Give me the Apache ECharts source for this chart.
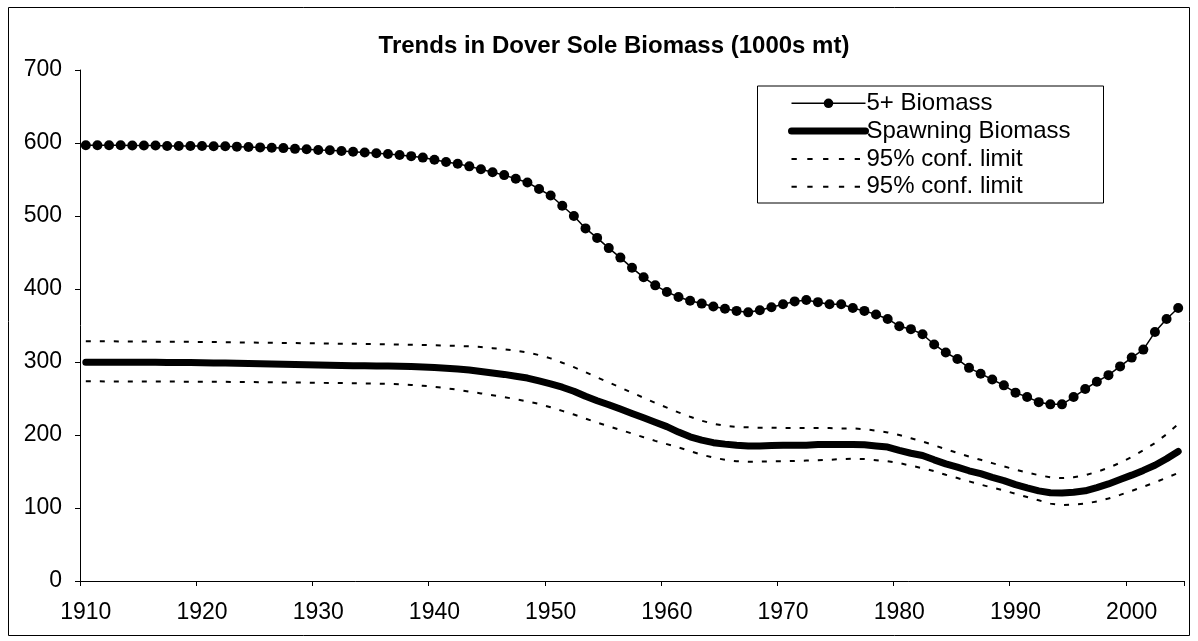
<!DOCTYPE html>
<html>
<head>
<meta charset="utf-8">
<script src="https://cdn.jsdelivr.net/npm/echarts@6/dist/echarts.min.js"></script>
<style>
html,body{margin:0;padding:0;background:#fff;}
#chart{width:1198px;height:641px;}
</style>
</head>
<body>
<div id="chart"></div>
<script>
// Categories: years 1910..2004
const years = [];
for (let y = 1910; y <= 2004; y++) years.push(String(y));

const biomass5plus = [
  597, 597, 597, 597, 596.5, 596.5, 596.5, 596, 596, 596,
  596, 595.5, 595.5, 595, 594.5, 594, 593.5, 593, 592, 591.5,
  590.5, 590, 589, 588, 587, 586, 585, 583.5, 582, 580,
  577, 574, 571.5, 568, 564, 560, 556, 551, 546, 537,
  528, 514, 500, 483, 470, 456, 443, 429, 416, 405,
  396, 389, 384, 380, 376, 373, 370, 368, 371, 375,
  379, 383, 385, 382, 379, 379, 374, 370, 365, 359,
  349, 345, 338, 324, 313, 304, 292, 284, 276, 268,
  258, 252, 245, 242, 242, 252, 263, 273, 282, 294,
  306, 317, 341, 359, 374
];

const spawningBiomass = [
  299.5, 299.5, 299.5, 299.5, 299.5, 299.5, 299.5, 299.4, 299.3, 299.2,
  299, 298.8, 298.6, 298.3, 298, 297.7, 297.4, 297, 296.6, 296.2,
  295.8, 295.5, 295.2, 295, 294.8, 294.6, 294.4, 294.2, 293.8, 293.2,
  292.5, 291.5, 290.3, 289, 287, 285, 283, 280.5, 278, 274,
  270, 265.5, 260, 253, 247, 241.5, 235.5, 229.5, 223.5, 217.5,
  211.5, 204, 197.5, 193, 189.5, 187.5, 186, 185, 185, 185.5,
  186, 186, 186, 187, 187, 187, 187, 186.5, 185, 183.5,
  179, 175, 172, 166, 160.5, 156, 151, 147, 142, 137.5,
  132, 127.5, 123.5, 121, 120.5, 121.5, 123.5, 128, 133, 139,
  145, 151.5, 158.5, 167.5, 177.5
];

const upperLimit = [
  328.5, 328.4, 328.3, 328.2, 328.1, 328, 327.9, 327.8, 327.7, 327.6,
  327.5, 327.3, 327.1, 326.9, 326.7, 326.5, 326.3, 326.1, 325.9, 325.7,
  325.5, 325.3, 325.1, 324.9, 324.7, 324.5, 324.2, 323.9, 323.6, 323.3,
  323, 322.5, 322, 321.5, 320.5, 319, 317.5, 315.5, 313, 309.5,
  305, 299, 293, 286, 279, 272, 265, 258, 251, 244,
  237.5, 231, 225, 219.5, 215.5, 212.5, 211, 210.5, 210, 210,
  209.5, 209.5, 209.5, 209.5, 209.5, 209, 209, 208, 206, 203.5,
  200, 195.5, 191, 186, 180.5, 175.5, 170.5, 166, 161.5, 157,
  152.5, 148.5, 145, 142, 141, 142, 145, 149.5, 155, 162,
  170, 179, 189, 201, 215
];

const lowerLimit = [
  273.5, 273.5, 273.4, 273.4, 273.3, 273.3, 273.2, 273.2, 273.1, 273.1,
  273, 272.9, 272.8, 272.6, 272.5, 272.4, 272.2, 272, 271.8, 271.7,
  271.5, 271.3, 271.1, 270.9, 270.7, 270.5, 270, 269.5, 268.5, 267.5,
  266, 264, 262, 259.5, 257, 254.5, 252, 249, 246, 242.5,
  238, 233, 228, 222.5, 217, 212, 207, 202, 197, 192,
  187.5, 183, 178, 173, 169, 166, 164, 163.5, 163.5, 164,
  164, 164.5, 165, 165.5, 166, 167, 167.5, 167, 165.5, 164,
  161.5, 158, 154.5, 150.5, 145.5, 141, 136.5, 132, 128, 124,
  119.5, 115, 110.5, 106, 104, 104.5, 106, 109, 113, 118,
  123.5, 129, 135, 141.5, 148
];

const yTicks = [0, 100, 200, 300, 400, 500, 600, 700];

const FONT = 'Liberation Sans, Arial, Helvetica, sans-serif';
const chart = echarts.init(document.getElementById('chart'), null, {renderer: 'canvas'});

const confName1 = '95% conf. limit';
const confName2 = '95% conf. limit\u200B';
const DASH = [5, 9];

const option = {
  backgroundColor: '#ffffff',
  animation: false,
  title: {
    text: 'Trends in Dover Sole Biomass (1000s mt)',
    left: 609, top: 29, textAlign: 'center',
    textStyle: {fontFamily: FONT, fontSize: 24, fontWeight: 'bold', color: '#000', lineHeight: 24}
  },
  legend: {
    left: 788, top: 91.3,
    orient: 'vertical',
    itemWidth: 74, itemHeight: 12, itemGap: 3.8,
    padding: 0,
    data: [
      {name: '5+ Biomass', lineStyle: {width: 1.5, color: '#000'}, itemStyle: {color: '#000'}},
      {name: 'Spawning Biomass', lineStyle: {width: 7, color: '#000', cap: 'round'}, itemStyle: {opacity: 0}},
      {name: confName1, lineStyle: {width: 2, color: '#000', type: [5.3, 10.5]}, itemStyle: {opacity: 0}},
      {name: confName2, lineStyle: {width: 2, color: '#000', type: [5.3, 10.5]}, itemStyle: {opacity: 0}}
    ],
    textStyle: {fontFamily: FONT, fontSize: 24, color: '#000', lineHeight: 24, padding: [0, 0, 0, -4]},
    formatter: n => n.replace('\u200B', '')
  },
  graphic: [
    {type: 'rect', shape: {x: 8.5, y: 7.5, width: 1181, height: 628},
     style: {fill: 'none', stroke: '#000', lineWidth: 1}, silent: true, z: 100},
    {type: 'rect', shape: {x: 757.5, y: 86, width: 346, height: 117},
     style: {fill: 'none', stroke: '#000', lineWidth: 1}, silent: true, z: 100}
  ],
  grid: {left: 80, right: 14, top: 70, bottom: 60, containLabel: false},
  xAxis: {
    type: 'category', data: years, boundaryGap: true,
    axisLine: {show: true, lineStyle: {color: '#000', width: 1}},
    axisTick: {show: true, interval: 9, length: 5, inside: false, lineStyle: {color: '#000'}},
    axisLabel: {interval: 9, margin: 20, fontFamily: FONT, fontSize: 23, color: '#000', lineHeight: 24},
    splitLine: {show: false}
  },
  yAxis: {
    type: 'value', min: yTicks[0], max: yTicks[yTicks.length - 1], interval: 100,
    axisLine: {show: true, lineStyle: {color: '#000', width: 1}},
    axisTick: {show: true, length: 5, lineStyle: {color: '#000'}},
    axisLabel: {margin: 18, fontFamily: FONT, fontSize: 23, color: '#000'},
    splitLine: {show: false}
  },
  series: [
    {name: '5+ Biomass', type: 'line', data: biomass5plus, symbol: 'circle', symbolSize: 10,
     showAllSymbol: true, itemStyle: {color: '#000'}, lineStyle: {color: '#000', width: 1.5}, z: 5},
    {name: 'Spawning Biomass', type: 'line', data: spawningBiomass, symbol: 'none',
     lineStyle: {color: '#000', width: 7, cap: 'round', join: 'round'}, itemStyle: {color: '#000'}, z: 4},
    {name: confName1, type: 'line', data: upperLimit, symbol: 'none',
     lineStyle: {color: '#000', width: 2, type: DASH}, itemStyle: {color: '#000'}, z: 3},
    {name: confName2, type: 'line', data: lowerLimit, symbol: 'none',
     lineStyle: {color: '#000', width: 2, type: DASH}, itemStyle: {color: '#000'}, z: 3}
  ]
};
chart.setOption(option);
</script>
</body>
</html>
